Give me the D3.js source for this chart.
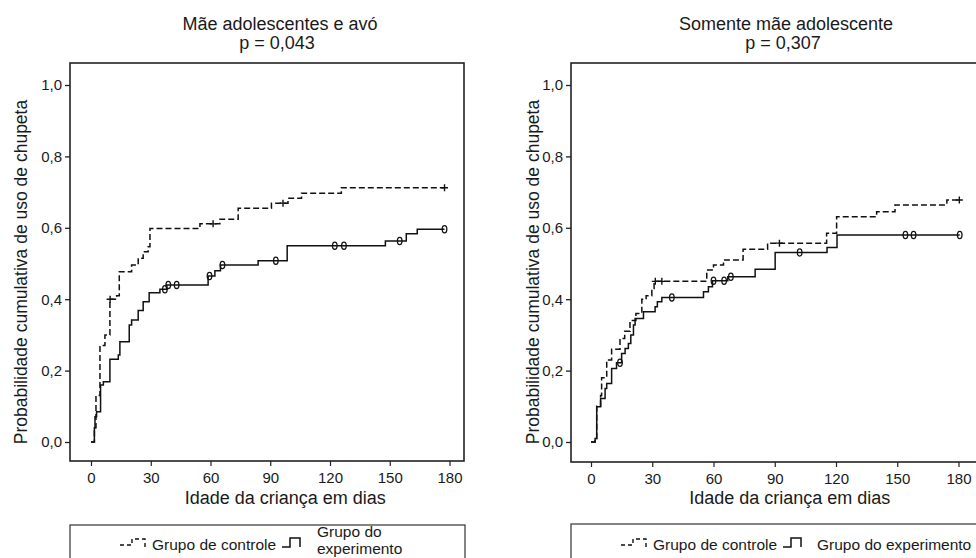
<!DOCTYPE html>
<html>
<head>
<meta charset="utf-8">
<script src="https://cdn.jsdelivr.net/npm/d3@7"></script>
<style>
  body { margin: 0; background: #fff; }
  text { font-family: 'Liberation Sans', Arial, Helvetica, sans-serif; fill: #1a1a1a; }
</style>
</head>
<body>
<svg id="chart" width="976" height="558"></svg>
<script>
// ── data (days, cumulative probability after each step) ─────────────────────
const titles = ['Mãe adolescentes e avó', 'Somente mãe adolescente']
const pValues = ['p = 0,043', 'p = 0,307']
const xTicks = [0, 30, 60, 90, 120, 150, 180]
const yTicks = [0, 0.2, 0.4, 0.6, 0.8, 1.0]
const xLabel = 'Idade da criança em dias'
const yLabel = 'Probabilidade cumulativa de uso de chupeta'
const legendControl = 'Grupo de controle'
const legendExperiment = 'Grupo do experimento'

const leftControl = [[0, 0], [1.7, 0.04], [2.5, 0.13], [4.5, 0.27], [7, 0.30], [9.5, 0.40], [12.9, 0.41],
  [14.2, 0.477], [20.4, 0.496], [23.7, 0.515], [26.2, 0.533], [28.7, 0.547], [29.6, 0.598], [54.7, 0.611],
  [64.7, 0.624], [73.9, 0.655], [90.6, 0.669], [98.9, 0.683], [105.7, 0.697], [125.7, 0.712]]
const leftControlEnd = 177.5
const leftControlCensored = [9.6, 61.3, 96.4, 177.5]

const leftExperiment = [[0, 0], [1.7, 0.04], [2, 0.071], [2.8, 0.085], [4.8, 0.16], [6.2, 0.169], [9.5, 0.232],
  [13.7, 0.244], [14.5, 0.281], [19.2, 0.328], [20.4, 0.342], [23.7, 0.368], [26.2, 0.393], [29.2, 0.418],
  [34.6, 0.428], [38, 0.44], [58.8, 0.465], [62.2, 0.48], [65, 0.496], [83.9, 0.508], [98.5, 0.55],
  [147.8, 0.563], [158.3, 0.583], [163.8, 0.596]]
const leftExperimentEnd = 177.5
const leftExperimentCensored = [37.1, 38.8, 43, 59.5, 66, 92.8, 122.4, 127, 155, 177.5]

const rightControl = [[0, 0], [2, 0.01], [2.8, 0.10], [4.7, 0.13], [5.2, 0.18], [7.7, 0.23], [10.1, 0.26],
  [14.2, 0.29], [16.5, 0.31], [19.1, 0.34], [22, 0.36], [24.9, 0.40], [27, 0.41], [29.8, 0.43], [30.9, 0.45],
  [56.7, 0.482], [60, 0.496], [64.9, 0.51], [74.5, 0.54], [86.5, 0.557], [115.4, 0.585], [120.3, 0.631],
  [139.9, 0.645], [148.9, 0.664], [174.3, 0.678]]
const rightControlEnd = 180.4
const rightControlCensored = [31.5, 34.7, 92.3, 180.4]

const rightExperiment = [[0, 0], [2, 0.01], [2.8, 0.099], [4.7, 0.122], [6.9, 0.15], [7.7, 0.164], [10.1, 0.206],
  [12.5, 0.222], [15, 0.248], [16.7, 0.262], [18.3, 0.276], [19.5, 0.30], [20.8, 0.328], [21.6, 0.346],
  [25.7, 0.365], [31.4, 0.379], [32.5, 0.393], [34.7, 0.405], [55.1, 0.421], [57.5, 0.435], [59.5, 0.452],
  [67, 0.463], [80.4, 0.484], [90.2, 0.531], [115.6, 0.545], [120.5, 0.58]]
const rightExperimentEnd = 180.6
const rightExperimentCensored = [14.2, 39.6, 60, 65.2, 68.5, 102.2, 154, 158, 180.6]

// ── layout ──────────────────────────────────────────────────────────────────
const panels = [
  {
    frame: { x0: 70, x1: 464, y0: 63, y1: 461 }, xr: [91, 449.5], titleX: 280, yLabelX: 21,
    legend: { x0: 70, x1: 465, y0: 525, twoLine: true },
    control: leftControl, controlEnd: leftControlEnd, controlCens: leftControlCensored,
    exp: leftExperiment, expEnd: leftExperimentEnd, expCens: leftExperimentCensored,
  },
  {
    frame: { x0: 571, x1: 982, y0: 63, y1: 462 }, xr: [591, 958.5], titleX: 786, yLabelX: 533,
    legend: { x0: 571, x1: 982, y0: 524, twoLine: false },
    control: rightControl, controlEnd: rightControlEnd, controlCens: rightControlCensored,
    exp: rightExperiment, expEnd: rightExperimentEnd, expCens: rightExperimentCensored,
  },
]

const svg = d3.select('#chart')
const ink = '#1a1a1a'
const fmt = d => d3.format('.1f')(d).replace('.', ',')

function valueAt(steps, day) {
  let v = 0
  steps.forEach(([d, p]) => { if (d <= day) v = p })
  return v
}

panels.forEach((pn, i) => {
  const x = d3.scaleLinear().domain([0, 180]).range(pn.xr)
  const y = d3.scaleLinear().domain([0, 1]).range([442, 85])
  const g = svg.append('g')
  const f = pn.frame

  // titles
  g.append('text').attr('x', pn.titleX).attr('y', 30).attr('text-anchor', 'middle')
    .attr('font-size', 18).text(titles[i])
  g.append('text').attr('x', pn.titleX - 3).attr('y', 49).attr('text-anchor', 'middle')
    .attr('font-size', 18).text(pValues[i])

  // frame
  g.append('rect').attr('x', f.x0).attr('y', f.y0).attr('width', f.x1 - f.x0).attr('height', f.y1 - f.y0)
    .attr('fill', 'none').attr('stroke', '#222').attr('stroke-width', 1.6)

  // y axis
  const yAxis = g.append('g').attr('transform', `translate(${f.x0},0)`)
    .call(d3.axisLeft(y).tickValues(yTicks).tickFormat(fmt).tickSize(5).tickPadding(3))
  yAxis.select('.domain').remove()
  yAxis.selectAll('line').attr('stroke', '#222').attr('stroke-width', 1.3)
  yAxis.selectAll('text').attr('font-size', 15).attr('fill', ink)
    .attr('font-family', "'Liberation Sans', Arial, sans-serif")

  // x axis
  const xAxis = g.append('g').attr('transform', `translate(0,${f.y1})`)
    .call(d3.axisBottom(x).tickValues(xTicks).tickSize(5).tickPadding(6))
  xAxis.select('.domain').remove()
  xAxis.selectAll('line').attr('stroke', '#222').attr('stroke-width', 1.2)
  xAxis.selectAll('text').attr('font-size', 15).attr('fill', ink)
    .attr('font-family', "'Liberation Sans', Arial, sans-serif")

  // axis titles
  g.append('text').attr('x', (pn.xr[0] + pn.xr[1]) / 2 + 15).attr('y', 504).attr('text-anchor', 'middle')
    .attr('font-size', 18).text(xLabel)
  g.append('text').attr('transform', `translate(${pn.yLabelX + 6},272) rotate(-90)`)
    .attr('text-anchor', 'middle').attr('font-size', 17.5).text(yLabel)

  // curves
  const line = d3.line().x(d => x(d[0])).y(d => y(d[1])).curve(d3.curveStepAfter)
  const ctrlPts = [...pn.control, [pn.controlEnd, pn.control[pn.control.length - 1][1]]]
  const expPts = [...pn.exp, [pn.expEnd, pn.exp[pn.exp.length - 1][1]]]

  g.append('path').attr('d', line(expPts)).attr('fill', 'none')
    .attr('stroke', '#111').attr('stroke-width', 1.5)
  g.append('path').attr('d', line(ctrlPts)).attr('fill', 'none')
    .attr('stroke', '#111').attr('stroke-width', 1.5).attr('stroke-dasharray', '6,3')

  // censor marks
  pn.controlCens.forEach(d => {
    const cx = x(d), cy = y(valueAt(pn.control, d))
    g.append('path').attr('d', `M${cx - 3.5},${cy}H${cx + 3.5}M${cx},${cy - 3.5}V${cy + 3.5}`)
      .attr('stroke', '#111').attr('stroke-width', 1.4)
  })
  pn.expCens.forEach(d => {
    const cx = x(d), cy = y(valueAt(pn.exp, d))
    g.append('ellipse').attr('cx', cx).attr('cy', cy).attr('rx', 2.3).attr('ry', 3.6)
      .attr('fill', 'none').attr('stroke', '#111').attr('stroke-width', 1.3)
  })

  // legend
  const lg = pn.legend
  g.append('rect').attr('x', lg.x0).attr('y', lg.y0).attr('width', lg.x1 - lg.x0).attr('height', 60)
    .attr('fill', 'none').attr('stroke', '#333').attr('stroke-width', 1.2)
  const ix = lg.x0 + 50
  g.append('path').attr('d', `M${ix},545H${ix + 12}V539H${ix + 25}V548`)
    .attr('fill', 'none').attr('stroke', '#111').attr('stroke-width', 1.4).attr('stroke-dasharray', '4,3')
  g.append('text').attr('x', lg.x0 + 82).attr('y', 550).attr('font-size', 15.5).text(legendControl)
  const sx = lg.x0 + 212
  g.append('path').attr('d', `M${sx},547H${sx + 8}V538H${sx + 18}V547`)
    .attr('fill', 'none').attr('stroke', '#111').attr('stroke-width', 1.5)
  if (lg.twoLine) {
    g.append('text').attr('x', lg.x0 + 247).attr('y', 537).attr('font-size', 15.5).text('Grupo do')
    g.append('text').attr('x', lg.x0 + 247).attr('y', 554).attr('font-size', 15.5).text('experimento')
  } else {
    g.append('text').attr('x', lg.x0 + 246).attr('y', 550).attr('font-size', 15.5).text(legendExperiment)
  }
})
</script>
</body>
</html>
